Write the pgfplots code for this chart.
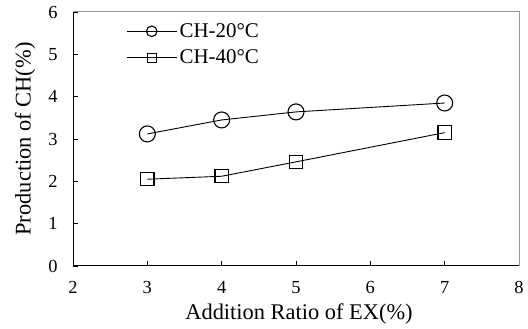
\documentclass[border=0pt]{standalone}
\usepackage{fontspec}
\setmainfont{Liberation Serif}
\usepackage{pgfplots}
\pgfplotsset{compat=1.18}
\begin{document}
\begin{tikzpicture}
\begin{axis}[
 scale only axis, width=446bp, height=254bp,
 xmin=2, xmax=8, ymin=0, ymax=6,
 xtick={2,3,4,5,6,7,8}, ytick={0,1,2,3,4,5,6},
 xticklabels={2,3,4,5,6,7,8}, yticklabels={0,1,2,3,4,5,6},
 axis lines=left, axis line style={-, line width=1bp},
 tick align=inside, major tick length=5bp, tick style={black, line width=0.8bp},
 tick label style={font=\fontsize{18.5}{22}\selectfont},
 xticklabel style={yshift=-12bp},
 yticklabel style={xshift=-12bp},
 xlabel={Addition Ratio of EX(\%)}, ylabel={Production of CH(\%)},
 label style={font=\fontsize{22.5}{26}\selectfont},
 xlabel style={at={(axis description cs:0.5,0)}, anchor=base, yshift=-54bp, xshift=3bp},
 ylabel style={at={(axis description cs:-0.095,0.5)}, anchor=base},
 clip=false,
 legend style={draw=none, fill=none, at={(rel axis cs:0.119,0.965)}, anchor=north west,
   font=\fontsize{21}{24}\selectfont, row sep=6bp, inner sep=0pt, nodes={inner sep=2.5bp}},
 legend cell align=left,
 legend image code/.code={\draw[mark repeat=2,mark phase=2,every mark/.append style={scale=0.66}] plot coordinates {(0bp,0bp) (25bp,0bp) (50bp,0bp)};},
]
\addplot[black, line width=0.9bp, mark=o, mark size=8bp, mark options={fill=white, line width=1.1bp}]
 coordinates {(3,3.12) (4,3.45) (5,3.64) (7,3.85)};
\addlegendentry{CH-20°C}
\addplot[black, line width=0.9bp, mark=square, mark size=6.7bp, mark options={fill=white, line width=1.1bp}]
 coordinates {(3,2.05) (4,2.12) (5,2.46) (7,3.15)};
\addlegendentry{CH-40°C}
\draw[gray!80, line width=1bp] (rel axis cs:0,1) -- (rel axis cs:1,1) -- (rel axis cs:1,0);
\coordinate (sw) at (rel axis cs:0,0);
\coordinate (ne) at (rel axis cs:1,1);
\end{axis}
\pgfresetboundingbox
\path (sw) ++(-73bp,-63bp) rectangle ([shift={(9bp,12bp)}]ne);
\end{tikzpicture}
\end{document}
